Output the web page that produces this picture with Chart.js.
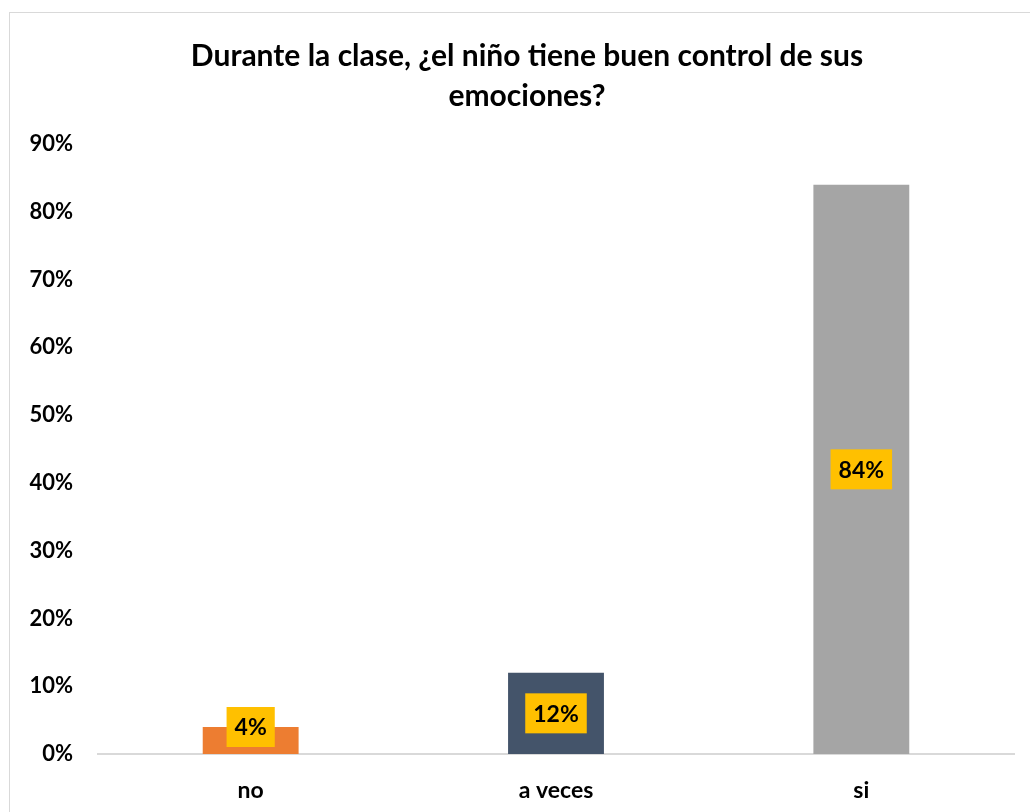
<!DOCTYPE html>
<html>
<head>
<meta charset="utf-8">
<script src="https://cdn.jsdelivr.net/npm/chart.js@4"></script>
<style>
  html, body { margin: 0; padding: 0; background: #fff; overflow: hidden; }
  #frame {
    position: absolute; left: 9px; top: 12px;
    width: 1040px; height: 820px;
    border: 1px solid #d9d9d9; box-sizing: border-box;
  }
  #wrap { position: absolute; left: 0; top: 0; width: 1020px; height: 800px; }
</style>
</head>
<body>
<div id="frame"><div id="wrap"><canvas id="grafico"></canvas></div></div>
<script>
// datos del gráfico
const categorias = ['no', 'a veces', 'si'];
const valores = [4, 12, 84];
const colores = ['#ED7D31', '#44546A', '#A5A5A5'];
const marcasEjeY = [0, 10, 20, 30, 40, 50, 60, 70, 80, 90];
const titulo = ['Durante la clase, ¿el niño tiene buen control de sus', 'emociones?'];

const fuente = 'Lato, "Open Sans", sans-serif';

// título centrado como en el original (un poco a la derecha del centro del lienzo)
const tituloPlugin = {
    id: 'tituloCentrado',
    afterDraw(chart) {
        const ctx = chart.ctx;
        ctx.save();
        ctx.font = 'bold 30px ' + fuente;
        ctx.fillStyle = '#000';
        ctx.textAlign = 'center';
        ctx.textBaseline = 'middle';
        titulo.forEach(function(linea, i) {
            ctx.fillText(linea, 517, 43 + i * 40);
        });
        ctx.restore();
    }
};

// etiquetas amarillas sobre las barras
const etiquetasPlugin = {
    id: 'etiquetas',
    afterDatasetsDraw(chart) {
        const ctx = chart.ctx;
        const meta = chart.getDatasetMeta(0);
        const base = chart.scales.y.getPixelForValue(0);
        ctx.save();
        ctx.font = 'bold 23px ' + fuente;
        ctx.textAlign = 'center';
        ctx.textBaseline = 'middle';
        meta.data.forEach(function(bar, i) {
            const texto = valores[i] + '%';
            const w = ctx.measureText(texto).width + 16;
            const h = 40;
            let y = (bar.y + base) / 2;
            if (y + h / 2 > base - 7) y = base - 7 - h / 2;
            ctx.fillStyle = '#FFC000';
            ctx.fillRect(bar.x - w / 2, y - h / 2, w, h);
            ctx.fillStyle = '#000';
            ctx.fillText(texto, bar.x, y + 1);
        });
        ctx.restore();
    }
};

new Chart(document.getElementById('grafico'), {
    type: 'bar',
    data: {
        labels: categorias,
        datasets: [{
            data: valores,
            backgroundColor: colores,
            borderWidth: 0,
            barPercentage: 0.314,
            categoryPercentage: 1
        }]
    },
    options: {
        responsive: true,
        maintainAspectRatio: false,
        animation: false,
        layout: { padding: { left: 0, right: 16, top: 131, bottom: 0 } },
        plugins: {
            legend: { display: false },
            tooltip: { enabled: false },
            title: { display: false }
        },
        scales: {
            y: {
                min: 0,
                max: 90,
                afterBuildTicks(scale) {
                    scale.ticks = marcasEjeY.map(v => ({ value: v }));
                },
                afterFit(scale) { scale.width = 88; },
                grid: { display: false, drawTicks: false },
                border: { display: false },
                ticks: {
                    padding: 25,
                    color: '#000',
                    font: { family: fuente, size: 22, weight: 'bold' },
                    callback: v => v + '%'
                }
            },
            x: {
                afterFit(scale) { scale.height = 59; },
                grid: { display: false, drawTicks: false },
                border: { display: true, color: '#d9d9d9', width: 2 },
                ticks: {
                    padding: 23,
                    color: '#000',
                    font: { family: fuente, size: 23, weight: 'bold' }
                }
            }
        }
    },
    plugins: [etiquetasPlugin, tituloPlugin]
});
</script>
</body>
</html>
